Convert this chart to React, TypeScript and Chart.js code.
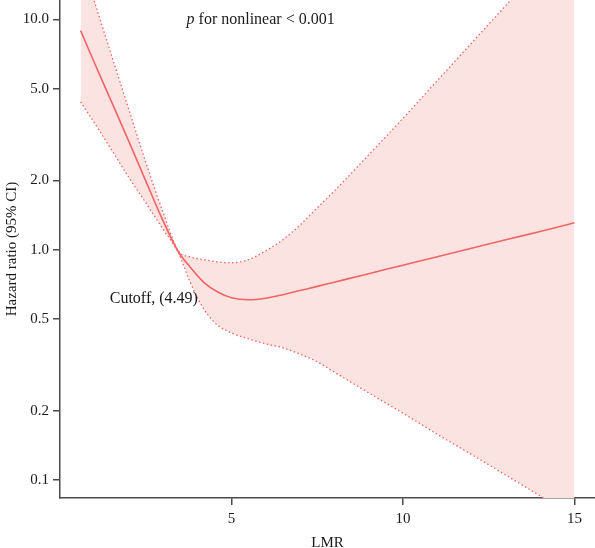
import { useEffect, useRef } from "react";
import { Chart, registerables } from "chart.js";

Chart.register(...registerables);

// LMR values at which the spline curve is evaluated
const lmr = [0.6, 1.0, 1.5, 2.0, 2.5, 3.0, 3.45, 3.8, 4.2, 4.6, 5.0, 5.5, 6.0, 6.5, 7.0, 7.5, 8.0, 9.0, 10.0, 11.0, 12.0, 13.0, 14.0, 15.0];

// Hazard ratio point estimate
const hrEstimate = [8.95, 6.5, 4.4, 2.97, 1.99, 1.34, 0.98, 0.84, 0.72, 0.655, 0.618, 0.606, 0.616, 0.638, 0.665, 0.693, 0.723, 0.787, 0.857, 0.933, 1.015, 1.105, 1.2, 1.31];

// 95% confidence limits
const hrLower = [4.39, 3.56, 2.72, 2.07, 1.6, 1.23, 0.97, 0.72, 0.55, 0.47, 0.435, 0.41, 0.39, 0.375, 0.352, 0.326, 0.294, 0.239, 0.195, 0.158, 0.129, 0.105, 0.0853, 0.0695];
const hrUpper = [18.3, 12.0, 7.0, 4.1, 2.4, 1.46, 0.99, 0.93, 0.905, 0.885, 0.878, 0.905, 0.99, 1.105, 1.28, 1.52, 1.8, 2.58, 3.72, 5.42, 7.9, 11.5, 16.8, 24.5];

// Axis ticks
const yTicks = [0.1, 0.2, 0.5, 1, 2, 5, 10];
const xTicks = [5, 10, 15];

const cutoffText = "Cutoff, (4.49)";
const pItalic = "p";
const pRest = " for nonlinear < 0.001";

const SERIF = '"Liberation Serif", "Times New Roman", serif';
const LINE_RED = "#EF6466";
const FILL_PINK = "#FBE3E1";
const AXIS_GREY = "#4a4a4a";
const TEXT = "#1a1a1a";

const textPlugin = {
  id: "rcsText",
  afterDraw(chart: any) {
    const { ctx, scales } = chart;
    const x = scales.x;
    const y = scales.y;
    ctx.save();
    ctx.fillStyle = TEXT;
    ctx.textBaseline = "middle";
    ctx.textAlign = "left";
    ctx.font = `16px ${SERIF}`;
    ctx.fillText(cutoffText, x.getPixelForValue(1.45), y.getPixelForValue(0.61));

    const px = x.getPixelForValue(3.69);
    const py = y.getPixelForValue(10.0);
    ctx.font = `italic 16px ${SERIF}`;
    ctx.fillText(pItalic, px, py);
    const w = ctx.measureText(pItalic).width;
    ctx.font = `16px ${SERIF}`;
    ctx.fillText(pRest, px + w, py);
    ctx.restore();
  },
};

export default function App() {
  const canvasRef = useRef<HTMLCanvasElement | null>(null);

  useEffect(() => {
    const canvas = canvasRef.current;
    if (!canvas) return;

    const toPoints = (vals: number[]) => lmr.map((v, i) => ({ x: v, y: vals[i] }));

    const chart = new Chart(canvas, {
      type: "line",
      data: {
        datasets: [
          {
            label: "HR",
            data: toPoints(hrEstimate),
            borderColor: LINE_RED,
            borderWidth: 1.6,
            pointRadius: 0,
            cubicInterpolationMode: "monotone",
            fill: false,
          },
          {
            label: "Lower",
            data: toPoints(hrLower),
            borderColor: LINE_RED,
            borderWidth: 1.3,
            borderDash: [1.5, 2.5],
            pointRadius: 0,
            cubicInterpolationMode: "monotone",
            fill: false,
          },
          {
            label: "Upper",
            data: toPoints(hrUpper),
            borderColor: LINE_RED,
            borderWidth: 1.3,
            borderDash: [1.5, 2.5],
            pointRadius: 0,
            cubicInterpolationMode: "monotone",
            backgroundColor: FILL_PINK,
            fill: "-1",
          },
        ],
      },
      options: {
        animation: false,
        responsive: false,
        devicePixelRatio: 1,
        layout: { padding: 0 },
        plugins: {
          legend: { display: false },
          tooltip: { enabled: false },
        },
        scales: {
          x: {
            type: "linear",
            min: 0,
            max: 15.6,
            afterBuildTicks: (scale: any) => {
              scale.ticks = xTicks.map((v) => ({ value: v }));
            },
            afterFit: (scale: any) => {
              scale.height = 62;
              scale.paddingLeft = 0;
              scale.paddingRight = 0;
            },
            grid: {
              display: true,
              drawOnChartArea: false,
              drawTicks: true,
              tickLength: 7,
              color: AXIS_GREY,
              lineWidth: 1.5,
            },
            border: { display: true, color: AXIS_GREY, width: 1.5 },
            ticks: {
              color: TEXT,
              padding: 5,
              font: { family: SERIF, size: 15 },
              maxRotation: 0,
              callback: (v: any) => String(v),
            },
            title: {
              display: true,
              text: "LMR",
              color: TEXT,
              font: { family: SERIF, size: 15 },
              padding: { top: 0, bottom: 8 },
            },
          },
          y: {
            type: "logarithmic",
            min: 0.0835,
            max: 12.15,
            afterBuildTicks: (scale: any) => {
              scale.ticks = yTicks.map((v) => ({ value: v }));
            },
            afterFit: (scale: any) => {
              scale.width = 60;
              scale.paddingTop = 0;
              scale.paddingBottom = 0;
            },
            grid: {
              display: true,
              drawOnChartArea: false,
              drawTicks: true,
              tickLength: 7,
              color: AXIS_GREY,
              lineWidth: 1.5,
            },
            border: { display: true, color: AXIS_GREY, width: 1.5 },
            ticks: {
              color: TEXT,
              padding: 4,
              font: { family: SERIF, size: 15 },
              callback: (v: any) => Number(v).toFixed(1),
            },
            title: {
              display: true,
              text: "Hazard ratio (95% CI)",
              color: TEXT,
              font: { family: SERIF, size: 15 },
              padding: { top: 3, bottom: 0 },
            },
          },
        },
      },
      plugins: [textPlugin],
    });

    return () => chart.destroy();
  }, []);

  return (
    <div
      style={{
        position: "absolute",
        left: 0,
        top: 0,
        width: 595,
        height: 548,
        overflow: "hidden",
        background: "#fff",
      }}
    >
      <canvas ref={canvasRef} width={595} height={560} style={{ display: "block" }} />
    </div>
  );
}
